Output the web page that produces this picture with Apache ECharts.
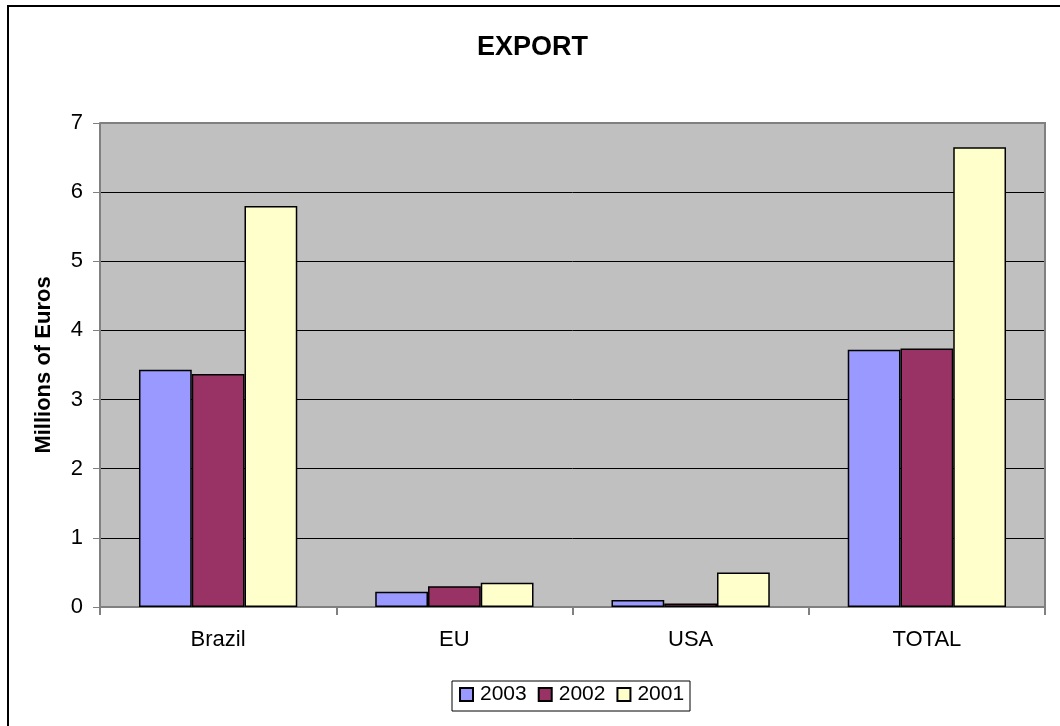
<!DOCTYPE html>
<html>
<head>
<meta charset="utf-8">
<script src="https://cdn.jsdelivr.net/npm/echarts@6/dist/echarts.min.js"></script>
<style>
  html, body { margin: 0; padding: 0; background: #fff; }
  #chart { width: 1060px; height: 726px; }
</style>
</head>
<body>
<div id="chart"></div>
<script>
// Export figures per market, millions of euros
const categories = ['Brazil', 'EU', 'USA', 'TOTAL'];
const years = ['2003', '2002', '2001'];
const values2003 = [3.43, 0.22, 0.10, 3.72];
const values2002 = [3.37, 0.30, 0.05, 3.74];
const values2001 = [5.80, 0.35, 0.50, 6.65];
const yTicks = [0, 1, 2, 3, 4, 5, 6, 7];

const colors = ['#9999FF', '#993366', '#FFFFCC'];
const seriesValues = [values2003, values2002, values2001];

const chart = echarts.init(document.getElementById('chart'), null, { renderer: 'canvas' });

const font = 'Liberation Sans, Arial, sans-serif';

chart.setOption({
  animation: false,
  backgroundColor: '#ffffff',
  title: {
    text: 'EXPORT',
    left: 477,
    top: 34,
    padding: 0,
    textStyle: { fontFamily: font, fontSize: 27, fontWeight: 'bold', color: '#000' }
  },
  graphic: [
    // outer frame (left and top edges visible)
    {
      type: 'rect',
      shape: { x: 8, y: 6, width: 1100, height: 800 },
      style: { fill: 'none', stroke: '#000', lineWidth: 2 },
      silent: true, z: 100
    },
    // plot-area frame: grey top and right edges
    {
      type: 'polyline',
      shape: { points: [[100, 123], [1045, 123], [1045, 607]] },
      style: { stroke: '#808080', lineWidth: 2, fill: 'none' },
      silent: true, z: 5
    },
    // legend box
    {
      type: 'rect',
      shape: { x: 452, y: 681, width: 238, height: 30 },
      style: { fill: '#fff', stroke: '#000', lineWidth: 1 },
      silent: true, z: 0
    }
  ],
  legend: {
    data: years,
    top: 684,
    left: 459,
    padding: 0,
    itemWidth: 13,
    itemHeight: 13,
    itemGap: 11,
    icon: 'rect',
    textStyle: { fontFamily: font, fontSize: 21, color: '#000', padding: [0, 0, 0, 2] },
    z: 10
  },
  grid: {
    left: 100, top: 123, right: 15, bottom: 119,
    show: true, backgroundColor: '#C0C0C0', borderWidth: 0
  },
  xAxis: {
    type: 'category',
    data: categories,
    axisLine: { show: true, lineStyle: { color: '#808080', width: 2 } },
    axisTick: { show: true, alignWithLabel: false, length: 8, lineStyle: { color: '#808080', width: 2 } },
    axisLabel: { fontFamily: font, fontSize: 22, color: '#000', margin: 22 },
    splitLine: { show: false }
  },
  yAxis: {
    type: 'value',
    min: yTicks[0],
    max: yTicks[yTicks.length - 1],
    interval: 1,
    name: 'Millions of Euros',
    nameLocation: 'middle',
    nameGap: 45,
    nameTextStyle: { fontFamily: font, fontSize: 22, fontWeight: 'bold', color: '#000' },
    axisLine: { show: true, lineStyle: { color: '#808080', width: 2 } },
    axisTick: { show: true, length: 7, lineStyle: { color: '#808080', width: 1 } },
    axisLabel: { fontFamily: font, fontSize: 22, color: '#000', margin: 17 },
    splitLine: { show: true, lineStyle: { color: '#000', width: 1 } }
  },
  series: years.map((y, i) => ({
    name: y,
    type: 'bar',
    data: seriesValues[i],
    barGap: '0%',
    barCategoryGap: '33%',
    itemStyle: { color: colors[i], borderColor: '#000', borderWidth: 1.5 },
    z: 3
  }))
});
</script>
</body>
</html>
